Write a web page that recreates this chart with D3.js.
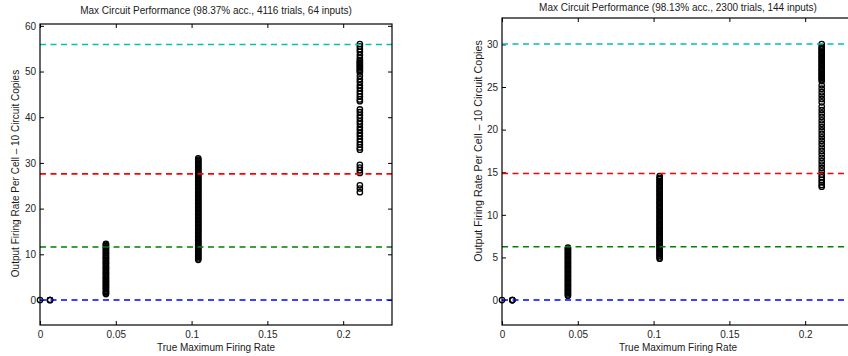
<!DOCTYPE html>
<html>
<head>
<meta charset="utf-8">
<script src="https://cdn.jsdelivr.net/npm/d3@7"></script>
<style>
  html, body { margin: 0; padding: 0; background: #fff; }
  svg { display: block; font-family: "Liberation Sans", Arial, Helvetica, sans-serif; }
</style>
</head>
<body>
<svg id="chart" width="848" height="356"></svg>
<script>
// ---- Panel 1: 64 inputs ----
const titleA = "Max Circuit Performance (98.37% acc., 4116 trials, 64 inputs)";
const xTicksA = [0, 0.05, 0.1, 0.15, 0.2];
const yTicksA = [0, 10, 20, 30, 40, 50, 60];
const refLevelsA = [55.9, 27.6, 11.6, 0];          // cyan, red, green, blue
const colXA = [0, 0.0066, 0.0435, 0.1044, 0.211];
const colA0 = [0];
const colA1 = [0, 0, 0];
const colA2 = [1.3, 1.5, 1.8, 2.0, 2.3, 2.6, 2.8, 3.1, 3.3, 3.6, 3.9, 4.1, 4.4, 4.7, 4.9,
  5.2, 5.5, 5.8, 6.0, 6.3, 6.6, 6.9, 7.1, 7.4, 7.7, 8.0, 8.2, 8.5, 8.8, 9.1, 9.3, 9.6,
  9.9, 10.2, 10.4, 10.7, 11.0, 11.3, 11.5, 11.8, 12.1, 12.3];
const colA3 = [8.8, 9.1, 9.4, 9.7, 10.0, 10.3, 10.6, 10.9, 11.2, 11.5, 11.8, 12.1, 12.4,
  12.7, 13.0, 13.3, 13.6, 13.9, 14.2, 14.5, 14.8, 15.1, 15.4, 15.7, 16.0, 16.3, 16.6,
  16.9, 17.2, 17.5, 17.8, 18.1, 18.4, 18.7, 19.0, 19.3, 19.6, 19.9, 20.2, 20.5, 20.8,
  21.1, 21.4, 21.7, 22.0, 22.3, 22.6, 22.9, 23.2, 23.5, 23.8, 24.1, 24.4, 24.7, 25.0,
  25.3, 25.6, 25.9, 26.2, 26.5, 26.8, 27.1, 27.4, 27.7, 28.0, 28.3, 28.6, 28.9, 29.2,
  29.5, 29.8, 30.1, 30.4, 30.7, 31.0];
const colA4 = [56.0, 55.5, 54.9, 54.3, 53.6, 53.0, 52.5, 52.2, 51.9, 51.6, 51.3, 51.0,
  50.7, 50.4, 50.1, 49.8, 49.0, 48.3, 47.7, 47.0, 46.4, 45.7, 45.1, 44.5, 43.9, 43.5,
  41.7, 41.1, 40.4, 39.8, 39.1, 38.5, 37.8, 37.2, 36.5, 35.9, 35.2, 34.6, 34.0, 33.4,
  32.9, 29.6, 29.0, 28.4, 27.8, 25.1, 24.4, 23.6];

// ---- Panel 2: 144 inputs ----
const titleB = "Max Circuit Performance (98.13% acc., 2300 trials, 144 inputs)";
const xTicksB = [0, 0.05, 0.1, 0.15, 0.2];
const yTicksB = [0, 5, 10, 15, 20, 25, 30];
const refLevelsB = [30.05, 14.85, 6.25, 0];
const colXB = [0, 0.0068, 0.0435, 0.104, 0.2109];
const colB0 = [0];
const colB1 = [0, 0, 0];
const colB2 = [0.5, 0.65, 0.8, 0.95, 1.1, 1.25, 1.4, 1.55, 1.7, 1.85, 2.0, 2.15, 2.3,
  2.45, 2.6, 2.75, 2.9, 3.05, 3.2, 3.35, 3.5, 3.65, 3.8, 3.95, 4.1, 4.25, 4.4, 4.55,
  4.7, 4.85, 5.0, 5.15, 5.3, 5.45, 5.6, 5.75, 5.9, 6.05, 6.15];
const colB3 = [4.85, 5.0, 5.2, 5.35, 5.5, 5.7, 5.85, 6.0, 6.2, 6.35, 6.5, 6.7, 6.85,
  7.0, 7.2, 7.35, 7.5, 7.7, 7.85, 8.0, 8.2, 8.35, 8.5, 8.7, 8.85, 9.0, 9.2, 9.35, 9.5,
  9.7, 9.85, 10.0, 10.2, 10.35, 10.5, 10.7, 10.85, 11.0, 11.2, 11.35, 11.5, 11.7,
  11.85, 12.0, 12.2, 12.35, 12.5, 12.7, 12.85, 13.0, 13.2, 13.35, 13.5, 13.7, 13.85,
  14.0, 14.2, 14.35, 14.55];
const colB4 = [30.05, 29.7, 29.55, 29.4, 29.2, 29.05, 28.9, 28.7, 28.55, 28.4, 28.2,
  28.05, 27.9, 27.7, 27.55, 27.4, 27.2, 27.05, 26.9, 26.7, 26.55, 26.4, 26.2, 26.05,
  25.9, 25.7, 25.2, 24.8, 24.4, 24.0, 23.6, 23.2, 22.7, 22.3, 21.9, 21.5, 21.1, 20.7,
  20.3, 19.9, 19.5, 19.1, 18.7, 18.3, 17.9, 17.5, 17.1, 16.7, 16.3, 15.9, 15.5, 15.1,
  14.7, 14.4, 14.1, 13.8, 13.5, 13.3];

const xLabel = "True Maximum Firing Rate";
const yLabel = "Output Firing Rate Per Cell \u2013 10 Circuit Copies";
const levelColors = ["#00bfbf", "#ff0000", "#008000", "#0000ff"];

const svg = d3.select("#chart");
const FS = 10;

function panel(cfg) {
  const { left, top, right, bottom } = cfg.box;
  const x = d3.scaleLinear().domain(cfg.xDomain).range([left, right]);
  const y = d3.scaleLinear().domain(cfg.yDomain).range([bottom, top]);
  const g = svg.append("g");

  // inward ticks on all four sides
  g.append("g").attr("transform", `translate(0,${bottom})`)
    .call(d3.axisBottom(x).tickValues(cfg.xTicks).tickSizeInner(-4).tickSizeOuter(0)
      .tickPadding(5.5).tickFormat(d3.format("")))
    .call(a => a.select(".domain").remove())
    .call(a => a.selectAll("text").attr("font-size", FS).attr("fill", "#262626"));
  g.append("g").attr("transform", `translate(0,${top})`)
    .call(d3.axisTop(x).tickValues(cfg.xTicks).tickSizeInner(-4).tickSizeOuter(0).tickFormat(""))
    .call(a => a.select(".domain").remove());
  g.append("g").attr("transform", `translate(${left},0)`)
    .call(d3.axisLeft(y).tickValues(cfg.yTicks).tickSizeInner(-4).tickSizeOuter(0)
      .tickPadding(4).tickFormat(d3.format("")))
    .call(a => a.select(".domain").remove())
    .call(a => a.selectAll("text").attr("font-size", FS).attr("fill", "#262626"));
  g.append("g").attr("transform", `translate(${right},0)`)
    .call(d3.axisRight(y).tickValues(cfg.yTicks).tickSizeInner(-4).tickSizeOuter(0).tickFormat(""))
    .call(a => a.select(".domain").remove());
  g.selectAll(".tick line").attr("stroke", "#000");

  // scatter columns
  const pts = [];
  cfg.cols.forEach((vals, i) => vals.forEach(v => pts.push([cfg.colX[i], v])));
  g.append("g").selectAll("circle").data(pts).join("circle")
    .attr("cx", d => x(d[0])).attr("cy", d => y(d[1])).attr("r", 2.7)
    .attr("fill", "none").attr("stroke", "#000").attr("stroke-width", 1.3);

  // dashed reference levels
  g.append("g").selectAll("line").data(cfg.levels).join("line")
    .attr("x1", left).attr("x2", right)
    .attr("y1", d => y(d)).attr("y2", d => y(d))
    .attr("stroke", (d, i) => levelColors[i]).attr("stroke-width", 1.6)
    .attr("stroke-dasharray", "6,4.5");

  // frame
  g.append("rect").attr("x", left).attr("y", top)
    .attr("width", right - left).attr("height", bottom - top)
    .attr("fill", "none").attr("stroke", "#000").attr("stroke-width", 1.2);

  // texts
  g.append("text").attr("x", (left + right) / 2).attr("y", cfg.titleY)
    .attr("text-anchor", "middle").attr("font-size", FS).attr("fill", "#1a1a1a").text(cfg.title);
  g.append("text").attr("x", (left + right) / 2).attr("y", 350.5)
    .attr("text-anchor", "middle").attr("font-size", FS).attr("fill", "#1a1a1a").text(xLabel);
  g.append("text")
    .attr("transform", `translate(${cfg.yLabelX},${cfg.yLabelY}) rotate(-90)`)
    .attr("text-anchor", "middle").attr("font-size", cfg.yLabelSize).attr("fill", "#1a1a1a")
    .text(yLabel);
}

panel({
  box: { left: 40, top: 24, right: 392, bottom: 325 },
  xDomain: [0, 0.2322], yDomain: [-5.47, 60.4],
  xTicks: xTicksA, yTicks: yTicksA, levels: refLevelsA,
  colX: colXA, cols: [colA0, colA1, colA2, colA3, colA4],
  title: titleA, titleY: 13.6, yLabelX: 18.5, yLabelY: 173.5, yLabelSize: FS
});

panel({
  box: { left: 502, top: 18, right: 854, bottom: 325 },
  xDomain: [0, 0.2322], yDomain: [-2.93, 33.1],
  xTicks: xTicksB, yTicks: yTicksB, levels: refLevelsB,
  colX: colXB, cols: [colB0, colB1, colB2, colB3, colB4],
  title: titleB, titleY: 11, yLabelX: 481.5, yLabelY: 151, yLabelSize: 10.7
});
</script>
</body>
</html>
